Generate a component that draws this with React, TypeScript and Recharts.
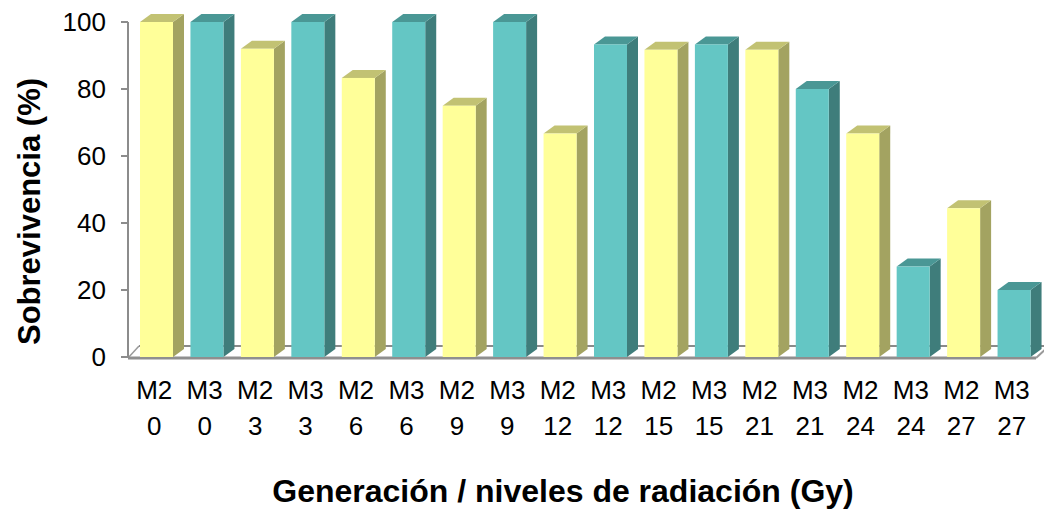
import React from 'react';
import { Bar, BarChart, Cell, ReferenceLine, XAxis, YAxis } from 'recharts';

const generations = ['M2', 'M3', 'M2', 'M3', 'M2', 'M3', 'M2', 'M3', 'M2', 'M3', 'M2', 'M3', 'M2', 'M3', 'M2', 'M3', 'M2', 'M3'];
const doses = [0, 0, 3, 3, 6, 6, 9, 9, 12, 12, 15, 15, 21, 21, 24, 24, 27, 27];
const survival = [100, 100, 92, 100, 83.3, 100, 75, 100, 66.7, 93.3, 91.7, 93.3, 91.7, 80, 66.7, 27, 44.4, 20];
const yTicks = [0, 20, 40, 60, 80, 100];

const data = survival.map((value, i) => ({
  key: `${generations[i]} ${doses[i]}`,
  gen: generations[i],
  dose: doses[i],
  value,
}));

const palette: Record<string, { front: string; side: string; top: string }> = {
  M2: { front: '#FFFF99', side: '#A3A361', top: '#C2C273' },
  M3: { front: '#64C6C4', side: '#3F7D7B', top: '#4A9795' },
};

const FONT = '"Liberation Sans", Arial, sans-serif';
const DEPTH_X = 11;
const DEPTH_Y = 8;

// extruded bar: front face plus the right side and top faces
function Bar3D(props: any) {
  const { x, y, width, height, payload } = props;
  if (height == null || width == null) return null;
  const c = palette[payload.gen];
  const r = x + width;
  const b = y + height;
  return (
    <g>
      <polygon
        points={`${r},${y} ${r + DEPTH_X},${y - DEPTH_Y} ${r + DEPTH_X},${b - DEPTH_Y} ${r},${b}`}
        fill={c.side}
      />
      <polygon
        points={`${x},${y} ${x + DEPTH_X},${y - DEPTH_Y} ${r + DEPTH_X},${y - DEPTH_Y} ${r},${y}`}
        fill={c.top}
      />
      <rect x={x} y={y} width={width} height={height} fill={c.front} />
    </g>
  );
}

// floor of the 3D plot, drawn from the zero line
function Floor(props: any) {
  const { x1, y1, x2 } = props;
  const front = y1 + 1;
  const back = y1 - 11;
  const right = x2 - 3;
  return (
    <g>
      <line x1={x1 + 11} y1={back} x2={right + 12} y2={back} stroke="#8a8a8a" strokeWidth={2} />
      <line x1={x1} y1={front} x2={x1 + 11} y2={back} stroke="#9a9a9a" strokeWidth={1.5} />
      <line x1={x1} y1={front} x2={right} y2={front} stroke="#8f8f8f" strokeWidth={3} />
      <line x1={right} y1={front} x2={right + 12} y2={back + 1} stroke="#9a9a9a" strokeWidth={2} />
    </g>
  );
}

function CategoryTick(props: any) {
  const { x, y, index } = props;
  return (
    <text x={x} y={y} textAnchor="middle" fontSize={26} fill="#000" fontFamily={FONT}>
      <tspan x={x - 2} y={y + 42}>{generations[index]}</tspan>
      <tspan x={x - 2} y={y + 78}>{doses[index]}</tspan>
    </text>
  );
}

function YTitle(props: any) {
  const { viewBox } = props;
  const cy = viewBox.y + viewBox.height / 2 + 22;
  return (
    <text
      x={40}
      y={cy}
      transform={`rotate(-90 40 ${cy})`}
      textAnchor="middle"
      fontSize={31}
      fontWeight="bold"
      fill="#000"
      fontFamily={FONT}
    >
      Sobrevivencia (%)
    </text>
  );
}

function XTitle() {
  return (
    <text x={563} y={502} textAnchor="middle" fontSize={32} fontWeight="bold" fill="#000" fontFamily={FONT}>
      Generación / niveles de radiación (Gy)
    </text>
  );
}

export default function App() {
  return (
    <div style={{ position: 'absolute', left: 0, top: 0, width: 1044, height: 510, background: '#fff' }}>
      <BarChart
        width={1044}
        height={510}
        data={data}
        margin={{ top: 22, right: 5, bottom: 0, left: 0 }}
        style={{ fontFamily: FONT }}
      >
        <XAxis
          dataKey="key"
          height={153}
          axisLine={false}
          tickLine={false}
          tickSize={0}
          tickMargin={0}
          interval={0}
          padding={{ left: 3, right: 0 }}
          tick={<CategoryTick />}
          label={<XTitle />}
        />
        <YAxis
          width={128}
          domain={[0, 100]}
          ticks={yTicks}
          interval={0}
          axisLine={{ stroke: '#8c8c8c', strokeWidth: 2 }}
          tickLine={{ stroke: '#8c8c8c', strokeWidth: 2 }}
          tickSize={7}
          tickMargin={15}
          tick={{ fontSize: 26, fill: '#000', fontFamily: FONT }}
          label={<YTitle />}
        />
        <ReferenceLine y={0} shape={<Floor />} zIndex={0} />
        <Bar dataKey="value" barSize={33} shape={<Bar3D />} isAnimationActive={false}>
          {data.map((d) => (
            <Cell key={d.key} fill={palette[d.gen].front} />
          ))}
        </Bar>
      </BarChart>
    </div>
  );
}
